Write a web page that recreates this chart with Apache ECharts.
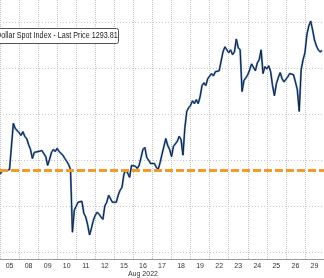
<!DOCTYPE html>
<html>
<head>
<meta charset="utf-8">
<script src="https://cdn.jsdelivr.net/npm/echarts@6/dist/echarts.min.js"></script>
<style>html,body{margin:0;padding:0;background:#fff}#c{width:324px;height:278px}</style>
</head>
<body>
<div id="c"></div>
<script>
// Trading days shown on the x axis (Aug 2022)
const days = ['05','08','09','10','11','12','15','16','17','18','19','22','23','24','25','26','29'];
// Intraday prices, 10 samples per trading day
const aug05 = [1267.0,1267.6,1267.2,1267.8,1267.6,1268.0,1267.8,1278.0,1276.9,1276.5];
const aug08 = [1276.0,1275.4,1276.2,1275.2,1274.7,1273.4,1272.35,1270.4,1271.7,1271.3];
const aug09 = [1271.9,1271.5,1272.1,1271.7,1270.8,1268.9,1270.2,1271.7,1272.35,1271.9];
const aug10 = [1272.6,1271.9,1271.7,1271.1,1270.4,1269.8,1269.1,1268.0,1254.4,1259.2];
const aug11 = [1260.1,1260.9,1260.5,1261.1,1258.5,1257.7,1256.0,1253.8,1255.3,1257.0];
const aug12 = [1258.1,1258.75,1258.3,1257.7,1257.2,1260.1,1260.9,1262.4,1262.0,1260.9];
const aug15 = [1260.5,1260.9,1262.4,1263.5,1264.1,1266.95,1268.0,1267.2,1266.3,1268.9];
const aug16 = [1269.3,1268.7,1268.25,1268.9,1270.6,1272.35,1272.8,1270.6,1270.0,1269.3];
const aug17 = [1269.1,1269.3,1268.5,1268.0,1269.5,1271.3,1273.0,1274.7,1273.2,1272.35];
const aug18 = [1270.8,1273.0,1273.4,1274.1,1275.2,1274.5,1271.1,1277.1,1280.6,1281.4];
const aug19 = [1281.9,1282.9,1282.3,1283.15,1282.3,1283.8,1286.2,1286.8,1286.2,1287.7];
const aug22 = [1288.1,1288.8,1288.3,1289.2,1288.8,1289.4,1289.6,1293.5,1294.6,1293.95];
const aug23 = [1293.3,1293.95,1292.9,1293.5,1296.3,1294.4,1293.95,1284.9,1287.3,1287.9];
const aug24 = [1288.55,1289.6,1290.9,1290.5,1289.4,1291.1,1291.8,1293.95,1288.8,1290.3];
const aug25 = [1289.8,1290.5,1289.2,1286.2,1284.0,1286.6,1287.9,1289.0,1287.7,1287.0];
const aug26 = [1286.8,1288.1,1288.8,1289.2,1288.55,1287.0,1285.3,1280.6,1289.6,1291.8];
const aug29 = [1293.3,1297.2,1299.1,1300.2,1298.3,1296.1,1294.8,1293.95,1293.5,1293.81];
const dayPrices = [aug05,aug08,aug09,aug10,aug11,aug12,aug15,aug16,aug17,aug18,aug19,aug22,aug23,aug24,aug25,aug26,aug29];
const referenceLevel = 1267.8;
const legendText = 'Dollar Spot Index - Last Price 1293.81';

const seriesData = [];
dayPrices.forEach(function (arr, d) {
  arr.forEach(function (v, k) { seriesData.push([d + k / arr.length, v]); });
});

const chart = echarts.init(document.getElementById('c'), null, {renderer: 'canvas'});
chart.setOption({
  animation: false,
  backgroundColor: '#fff',
  grid: {left: -0.6, right: -8.6, top: 0, bottom: 18, containLabel: false},
  xAxis: [{
    type: 'category',
    data: days,
    boundaryGap: true,
    axisLine: {show: true, lineStyle: {color: '#9a9a9a', width: 1}},
    axisTick: {show: false},
    axisLabel: {
      interval: 0, hideOverlap: false,
      color: '#333', fontSize: 7, fontFamily: 'Liberation Sans', margin: 3, lineHeight: 8,
      formatter: function (v) { return v === '16' ? v + '\nAug 2022' : v; }
    },
    splitLine: {show: true, interval: 0, lineStyle: {color: '#c4c4c4', type: [1, 1], width: 1}}
  }, {
    type: 'value', min: 0, max: 17, show: false
  }],
  yAxis: {
    type: 'value', min: 1248.6, max: 1304.75, splitNumber: 5,
    axisLine: {show: false}, axisTick: {show: false}, axisLabel: {show: false},
    splitLine: {show: true, showMinLine: false, showMaxLine: false, lineStyle: {color: '#c4c4c4', type: [1, 2], width: 1}}
  },
  series: [{
    type: 'line', xAxisIndex: 1, data: [], silent: true, z: 1,
    markLine: {
      silent: true, symbol: 'none', label: {show: false},
      lineStyle: {color: '#f39a2b', width: 3, type: [8, 3]},
      data: [{yAxis: referenceLevel}]
    }
  }, {
    type: 'line', xAxisIndex: 1, data: seriesData, showSymbol: false, silent: true, z: 2,
    lineStyle: {color: '#5b8ac4', width: 2}
  }, {
    type: 'line', xAxisIndex: 1, data: seriesData, showSymbol: false, silent: true, z: 3,
    lineStyle: {color: '#141f36', width: 1}
  }],
  graphic: [{
    type: 'rect', left: -6, top: 28, z: 10,
    shape: {x: 0, y: 0, width: 124, height: 15, r: 2},
    style: {fill: '#fff', stroke: '#555', lineWidth: 1}
  }, {
    type: 'text', x: -4, y: 36, z: 11, scaleX: 0.8,
    style: {text: legendText, fill: '#222', fontSize: 9, fontFamily: 'Liberation Sans', verticalAlign: 'middle', align: 'left'}
  }]
});
</script>
</body>
</html>
